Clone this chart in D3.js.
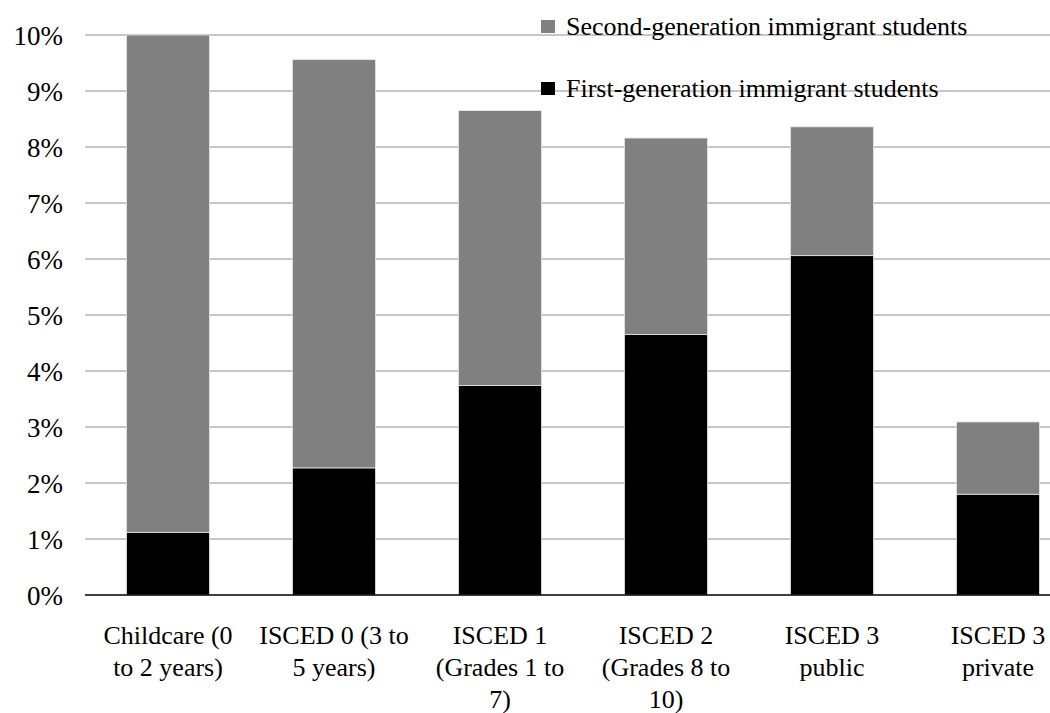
<!DOCTYPE html>
<html>
<head>
<meta charset="utf-8">
<script src="https://cdn.jsdelivr.net/npm/d3@7"></script>
<style>
  body { margin: 0; }
  svg text, svg tspan { font-family: 'Liberation Serif', Tinos, 'Times New Roman', serif !important; }
</style>
</head>
<body>
<svg id="chart" width="1050" height="713" font-family="Liberation Serif"></svg>
<script>
// Share of immigrant students by level of education
const categories = [
  ["Childcare (0", "to 2 years)"],
  ["ISCED 0 (3 to", "5 years)"],
  ["ISCED 1", "(Grades 1 to", "7)"],
  ["ISCED 2", "(Grades 8 to", "10)"],
  ["ISCED 3", "public"],
  ["ISCED 3", "private"]
];
const firstGeneration  = [1.12, 2.27, 3.74, 4.65, 6.06, 1.80];
const secondGeneration = [8.88, 7.29, 4.91, 3.51, 2.30, 1.29];
const seriesNames = ["First-generation immigrant students", "Second-generation immigrant students"];
const seriesColors = ["#000000", "#808080"];
const yTicks = [0, 1, 2, 3, 4, 5, 6, 7, 8, 9, 10];

const fontStack = "'Liberation Serif', Tinos, 'Times New Roman', serif";
const svg = d3.select("#chart");
const plotLeft = 85, plotRight = 1081, plotTop = 35, plotBottom = 595;

const keys = categories.map((c, i) => i);
const x = d3.scaleBand().domain(keys).range([plotLeft, plotRight]).paddingInner(0.5).paddingOuter(0.25);
const y = d3.scaleLinear().domain([0, 10]).range([plotBottom, plotTop]);

// gridlines
svg.append("g").selectAll("line").data(yTicks.filter(t => t > 0)).join("line")
  .attr("x1", plotLeft).attr("x2", 1050)
  .attr("y1", d => y(d)).attr("y2", d => y(d))
  .attr("stroke", "#b4b4b4").attr("stroke-width", 1.5);

// stacked bars
const rows = keys.map(i => ({ key: i, first: firstGeneration[i], second: secondGeneration[i] }));
const stacked = d3.stack().keys(["first", "second"])(rows);
svg.append("g").selectAll("g").data(stacked).join("g")
  .attr("fill", (d, i) => seriesColors[i])
  .selectAll("rect").data(d => d).join("rect")
  .attr("x", d => x(d.data.key))
  .attr("width", x.bandwidth())
  .attr("y", d => y(d[1]))
  .attr("height", d => y(d[0]) - y(d[1]))
  .attr("stroke", "#e6e6e6").attr("stroke-width", 0.8);

// x axis line
svg.append("line")
  .attr("x1", plotLeft).attr("x2", 1050)
  .attr("y1", y(0)).attr("y2", y(0))
  .attr("stroke", "#000").attr("stroke-width", 1.5);

// y tick labels
yTicks.forEach(t => {
  svg.append("text")
    .attr("x", 63).attr("y", y(t) + 10)
    .attr("text-anchor", "end")
    .attr("font-size", 27)
    .style("font-family", fontStack, "important")
    .text(t + "%");
});

// category labels, one tspan per line
keys.forEach(k => {
  const t = svg.append("text")
    .attr("text-anchor", "middle")
    .attr("font-size", 26)
    .style("font-family", fontStack, "important")
    .attr("transform", `translate(${x(k) + x.bandwidth() / 2},644)`);
  categories[k].forEach((line, i) => {
    t.append("tspan").attr("x", 0).attr("y", i * 32).text(line);
  });
});

// legend (second generation on top)
const legendItems = [
  { name: seriesNames[1], color: seriesColors[1], y: 35 },
  { name: seriesNames[0], color: seriesColors[0], y: 97 }
];
legendItems.forEach(item => {
  svg.append("rect")
    .attr("x", 541).attr("y", item.y - 15)
    .attr("width", 14).attr("height", 13)
    .attr("fill", item.color);
  svg.append("text")
    .attr("x", 566).attr("y", item.y)
    .attr("font-size", 26)
    .style("font-family", fontStack, "important")
    .text(item.name);
});
</script>
</body>
</html>
